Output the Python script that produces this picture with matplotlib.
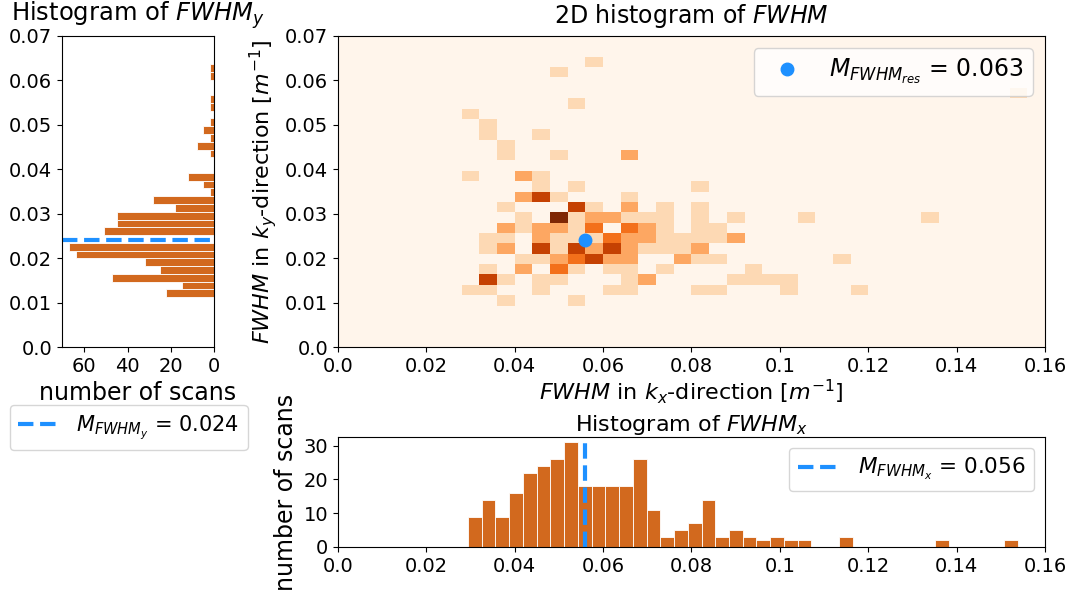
import numpy as np
import matplotlib
matplotlib.use("Agg")
import matplotlib.pyplot as plt
from matplotlib.ticker import FuncFormatter

# FWHM in x-direction: 40 bins between min and max
fwhm_x_min, fwhm_x_max = 0.0294, 0.1538
counts_x = [9, 14, 9, 16, 22, 24, 26, 31, 18, 18, 18, 18, 26, 11, 3, 5, 7, 14, 3, 5,
            3, 2, 3, 2, 2, 0, 0, 3, 0, 0, 0, 0, 0, 0, 2, 0, 0, 0, 0, 2]

# FWHM in y-direction: 30 bins between min and max (bottom to top)
fwhm_y_min, fwhm_y_max = 0.0112, 0.0637
counts_y = [22, 15, 47, 25, 32, 64, 67, 0, 51, 45, 45, 18, 28, 2, 5,
            12, 0, 0, 2, 8, 2, 5, 2, 0, 2, 2, 0, 0, 2, 2]

# 2D histogram cells (kx, ky, count), one line per ky row
cell_kx = [0.058,
           0.050,
           0.154,
           0.054,
           0.030,
           0.034,
           0.034, 0.046,
           0.038,
           0.038, 0.050, 0.066,
           0.030, 0.042, 0.046,
           0.046, 0.054, 0.082,
           0.042, 0.046, 0.050, 0.066,
           0.038, 0.054, 0.058, 0.066, 0.074, 0.082,
           0.042, 0.050, 0.054, 0.058, 0.062, 0.066, 0.070, 0.074, 0.082, 0.090, 0.106, 0.134,
           0.038, 0.042, 0.046, 0.050, 0.054, 0.058, 0.066, 0.070, 0.074, 0.082, 0.086,
           0.034, 0.038, 0.046, 0.050, 0.054, 0.058, 0.062, 0.066, 0.070, 0.074, 0.078, 0.082, 0.086, 0.090,
           0.034, 0.038, 0.046, 0.050, 0.054, 0.058, 0.062, 0.066, 0.070, 0.074, 0.078, 0.082,
           0.042, 0.046, 0.050, 0.054, 0.058, 0.062, 0.066, 0.078, 0.082, 0.086, 0.114,
           0.034, 0.042, 0.050, 0.054, 0.062, 0.066, 0.074, 0.094,
           0.034, 0.038, 0.046, 0.050, 0.066, 0.070, 0.090, 0.094, 0.098, 0.102,
           0.030, 0.034, 0.046, 0.062, 0.066, 0.082, 0.086, 0.102, 0.118,
           0.038, 0.054]
cell_ky = [0.0642,
           0.0618,
           0.0572,
           0.0548,
           0.0525,
           0.0502,
           0.0478, 0.0478,
           0.0455,
           0.0432, 0.0432, 0.0432,
           0.0385, 0.0385, 0.0385,
           0.0362, 0.0362, 0.0362,
           0.0338, 0.0338, 0.0338, 0.0338,
           0.0315, 0.0315, 0.0315, 0.0315, 0.0315, 0.0315,
           0.0292, 0.0292, 0.0292, 0.0292, 0.0292, 0.0292, 0.0292, 0.0292, 0.0292, 0.0292, 0.0292, 0.0292,
           0.0268, 0.0268, 0.0268, 0.0268, 0.0268, 0.0268, 0.0268, 0.0268, 0.0268, 0.0268, 0.0268,
           0.0245, 0.0245, 0.0245, 0.0245, 0.0245, 0.0245, 0.0245, 0.0245, 0.0245, 0.0245, 0.0245, 0.0245, 0.0245, 0.0245,
           0.0222, 0.0222, 0.0222, 0.0222, 0.0222, 0.0222, 0.0222, 0.0222, 0.0222, 0.0222, 0.0222, 0.0222,
           0.0198, 0.0198, 0.0198, 0.0198, 0.0198, 0.0198, 0.0198, 0.0198, 0.0198, 0.0198, 0.0198,
           0.0175, 0.0175, 0.0175, 0.0175, 0.0175, 0.0175, 0.0175, 0.0175,
           0.0152, 0.0152, 0.0152, 0.0152, 0.0152, 0.0152, 0.0152, 0.0152, 0.0152, 0.0152,
           0.0128, 0.0128, 0.0128, 0.0128, 0.0128, 0.0128, 0.0128, 0.0128, 0.0128,
           0.0105, 0.0105]
cell_n = [1,
          1,
          1,
          1,
          1,
          1,
          1, 1,
          1,
          1, 1, 2,
          1, 2, 1,
          1, 1, 1,
          2, 4, 1, 1,
          1, 4, 1, 2, 1, 1,
          1, 5, 1, 2, 2, 1, 1, 1, 1, 1, 1, 1,
          2, 1, 2, 2, 1, 3, 3, 2, 1, 1, 1,
          1, 1, 2, 1, 1, 1, 3, 2, 2, 1, 1, 1, 1, 2,
          1, 2, 4, 1, 4, 2, 4, 2, 1, 1, 1, 2,
          1, 1, 2, 3, 4, 2, 2, 2, 1, 1, 1,
          1, 2, 3, 1, 1, 1, 1, 1,
          4, 1, 1, 1, 1, 2, 1, 1, 1, 1,
          1, 1, 1, 1, 1, 1, 1, 1, 1,
          1, 1]

m_x = 0.056
m_y = 0.024
m_res = 0.063

bar_color = "chocolate"
mean_color = "dodgerblue"

fmt = FuncFormatter(lambda v, p: str(round(v, 2)))

fig = plt.figure(figsize=(10.72, 5.93), dpi=100)
ax_main = fig.add_axes([0.3153, 0.4148, 0.6595, 0.5245])
ax_y = fig.add_axes([0.0578, 0.4148, 0.1418, 0.5245])
ax_x = fig.add_axes([0.3153, 0.0776, 0.6595, 0.1855])

# 2D histogram
ax_main.hist2d(cell_kx, cell_ky, bins=[40, 30], range=[[0, 0.16], [0, 0.07]],
               weights=cell_n, cmap="Oranges", vmin=0, vmax=5)
ax_main.plot([m_x], [m_y], "o", color=mean_color, markersize=9,
             label=r"$M_{FWHM_{res}}$ = %.3f" % m_res)
ax_main.set_xlim(0, 0.16)
ax_main.set_ylim(0, 0.07)
ax_main.set_title(r"2D histogram of $FWHM$", fontsize=17, pad=9)
ax_main.set_xlabel(r"$FWHM$ in $k_x$-direction [$m^{-1}$]", fontsize=16, labelpad=1)
ax_main.set_ylabel(r"$FWHM$ in $k_y$-direction [$m^{-1}$]", fontsize=16)
ax_main.legend(loc="upper right", fontsize=17)

# histogram of FWHM_y (horizontal)
edges_y = np.linspace(fwhm_y_min, fwhm_y_max, len(counts_y) + 1)
centers_y = (edges_y[:-1] + edges_y[1:]) / 2
ax_y.hist(centers_y, bins=edges_y, weights=counts_y, orientation="horizontal",
          color=bar_color, edgecolor="white", linewidth=0.6)
ax_y.axhline(m_y, color=mean_color, ls="--", lw=3,
             label=r"$M_{FWHM_y}$ = %.3f" % m_y)
ax_y.set_ylim(0, 0.07)
ax_y.set_xticks([60, 40, 20, 0])
ax_y.invert_xaxis()
ax_y.set_title(r"Histogram of $FWHM_y$", fontsize=17.5, pad=11)
ax_y.set_xlabel("number of scans", fontsize=17)
ax_y.legend(loc="upper left", bbox_to_anchor=(0.009, 0.317), borderaxespad=0,
            bbox_transform=fig.transFigure, fontsize=15)

# histogram of FWHM_x
edges_x = np.linspace(fwhm_x_min, fwhm_x_max, len(counts_x) + 1)
centers_x = (edges_x[:-1] + edges_x[1:]) / 2
ax_x.hist(centers_x, bins=edges_x, weights=counts_x,
          color=bar_color, edgecolor="white", linewidth=0.6)
ax_x.axvline(m_x, color=mean_color, ls="--", lw=3,
             label=r"$M_{FWHM_x}$ = %.3f" % m_x)
ax_x.set_xlim(0, 0.16)
ax_x.set_yticks([0, 10, 20, 30])
ax_x.set_title(r"Histogram of $FWHM_x$", fontsize=16, pad=4)
ax_x.set_ylabel("number of scans", fontsize=17)
ax_x.legend(loc="upper right", fontsize=15.5)

for ax in (ax_main, ax_y, ax_x):
    ax.tick_params(labelsize=14)
ax_main.xaxis.set_major_formatter(fmt)
ax_main.yaxis.set_major_formatter(fmt)
ax_y.yaxis.set_major_formatter(fmt)
ax_x.xaxis.set_major_formatter(fmt)

fig.savefig("out.png", dpi=100)
